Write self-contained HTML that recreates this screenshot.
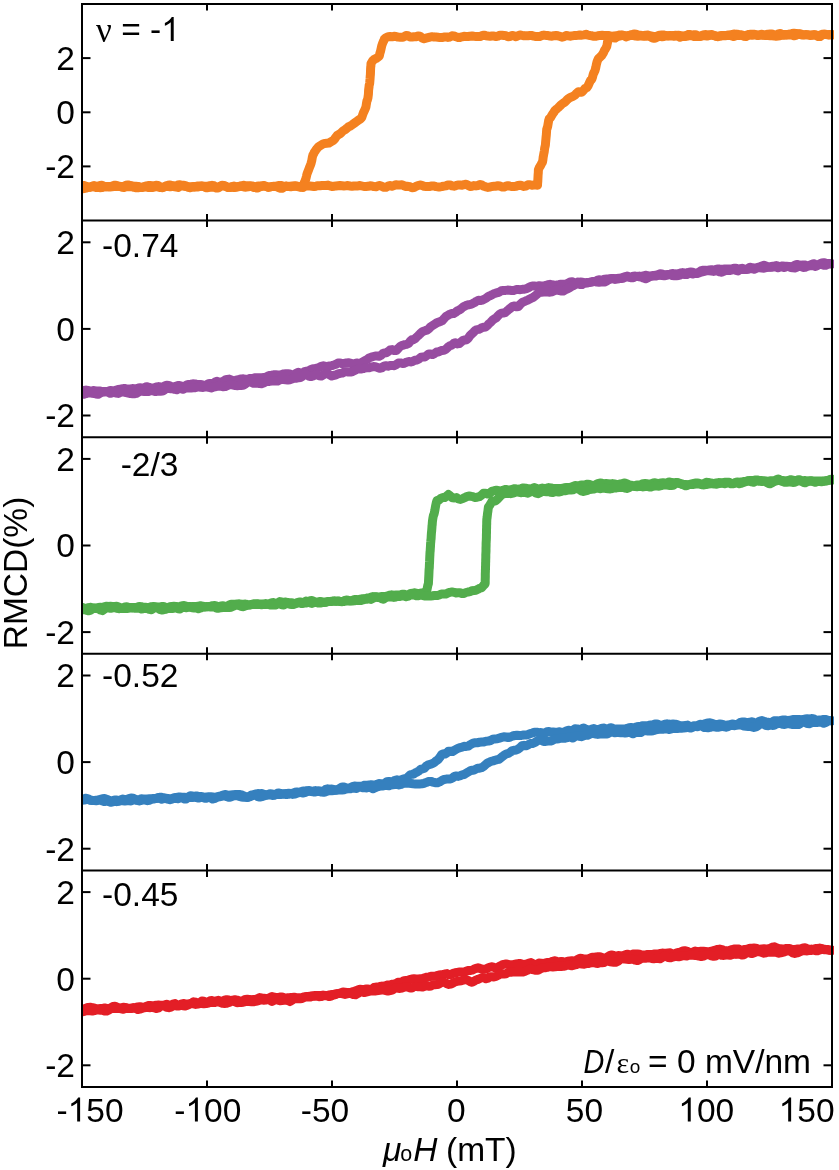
<!DOCTYPE html>
<html><head><meta charset="utf-8"><style>
html,body{margin:0;padding:0;background:#fff;}
svg{display:block;will-change:transform;}
text{font-family:"Liberation Sans",sans-serif;font-size:33.5px;fill:#000;}
.c path{fill:none;stroke-width:9.0;stroke-linejoin:round;stroke-linecap:round;}
.ax line,.ax rect{stroke:#000;stroke-width:2;}
</style></head><body>
<svg width="839" height="1170" viewBox="0 0 839 1170">
<defs><clipPath id="cp"><rect x="82" y="0" width="752" height="1170"/></clipPath></defs>
<g class="c" clip-path="url(#cp)">
<path d="M832.0 35.1 L830.0 35.1 L828.0 34.7 L826.0 34.3 L824.0 34.2 L822.0 34.3 L820.0 35.2 L818.0 35.7 L816.0 35.0 L814.0 34.7 L812.0 35.3 L810.0 35.5 L808.0 35.0 L806.0 34.5 L804.0 35.0 L802.0 35.1 L800.0 34.4 L798.0 33.8 L796.0 33.4 L794.0 33.2 L792.0 33.5 L790.0 34.0 L788.0 34.4 L786.0 35.0 L784.0 35.3 L782.0 34.3 L780.0 33.4 L778.0 34.1 L776.0 35.0 L774.0 34.8 L772.0 34.1 L770.0 34.1 L768.0 34.2 L766.0 34.7 L764.0 35.3 L762.0 35.0 L760.0 35.2 L758.0 35.6 L756.0 35.1 L754.0 35.0 L752.0 35.3 L750.0 35.0 L748.0 34.6 L746.0 35.4 L744.0 35.7 L742.0 35.0 L740.0 35.4 L738.0 35.4 L736.0 35.6 L734.0 36.6 L732.0 36.0 L730.0 34.9 L728.0 35.2 L726.0 35.7 L724.0 35.6 L722.0 35.7 L720.0 35.8 L718.0 36.2 L716.0 36.3 L714.0 35.5 L712.0 35.2 L710.0 35.3 L708.0 35.0 L706.0 34.6 L704.0 34.7 L702.0 35.5 L700.0 36.3 L698.0 36.1 L696.0 34.8 L694.0 34.8 L692.0 35.1 L690.0 34.4 L688.0 34.6 L686.0 35.7 L684.0 36.5 L682.0 36.3 L680.0 35.5 L678.0 35.2 L676.0 35.8 L674.0 36.3 L672.0 35.7 L670.0 35.4 L668.0 35.7 L666.0 35.6 L664.0 35.1 L662.0 34.9 L660.0 35.2 L658.0 35.7 L656.0 36.4 L654.0 36.4 L652.0 36.1 L650.0 36.0 L648.0 36.0 L646.0 36.2 L644.0 36.2 L642.0 35.7 L640.0 35.2 L638.0 35.0 L636.0 34.2 L634.0 33.9 L632.0 34.7 L630.0 35.2 L628.0 36.3 L626.0 36.9 L624.0 35.8 L622.0 35.2 L620.0 35.9 L618.0 36.1 L616.0 35.8 L614.0 35.9 L612.0 36.3 L610.0 36.0 L608.0 35.4 L606.0 35.5 L604.0 35.5 L602.0 35.3 L600.0 35.4 L598.0 35.7 L596.0 36.3 L594.0 36.3 L592.0 35.8 L590.0 35.5 L588.0 35.1 L586.0 34.3 L584.0 34.8 L582.0 35.2 L580.0 35.0 L578.0 35.3 L576.0 35.4 L574.0 35.6 L572.0 35.9 L570.0 36.2 L568.0 35.8 L566.0 35.5 L564.0 36.7 L562.0 37.2 L560.0 36.3 L558.0 35.8 L556.0 35.5 L554.0 35.7 L552.0 36.2 L550.0 36.0 L548.0 35.6 L546.0 35.4 L544.0 35.1 L542.0 35.5 L540.0 36.4 L538.0 36.6 L536.0 36.6 L534.0 36.2 L532.0 35.6 L530.0 35.5 L528.0 35.7 L526.0 35.8 L524.0 35.8 L522.0 35.4 L520.0 35.0 L518.0 35.7 L516.0 36.7 L514.0 35.9 L512.0 35.4 L510.0 36.5 L508.0 36.7 L506.0 35.7 L504.0 35.4 L502.0 35.2 L500.0 35.2 L498.0 36.1 L496.0 36.5 L494.0 36.1 L492.0 36.0 L490.0 36.2 L488.0 36.0 L486.0 35.7 L484.0 35.2 L482.0 35.7 L480.0 36.6 L478.0 36.5 L476.0 36.4 L474.0 36.3 L472.0 36.0 L470.0 36.2 L468.0 36.5 L466.0 36.4 L464.0 36.3 L462.0 36.8 L460.0 37.4 L458.0 37.4 L456.0 36.8 L454.0 35.9 L452.0 35.8 L450.0 37.0 L448.0 37.4 L446.0 36.9 L444.0 37.1 L442.0 37.5 L440.0 37.6 L438.0 37.3 L436.0 37.1 L434.0 37.1 L432.0 36.7 L430.0 37.1 L428.0 37.6 L426.0 38.1 L424.0 38.7 L422.0 38.0 L420.0 36.2 L418.0 35.9 L416.0 36.7 L414.0 36.7 L412.0 37.0 L410.0 37.1 L408.0 35.8 L406.0 35.5 L404.0 36.8 L402.0 37.3 L400.0 37.2 L398.0 37.1 L396.0 36.5 L394.0 36.3 L392.0 36.8 L390.0 36.6 L388.0 36.7 L386.0 37.7 L384.3 39.2 L383.7 40.9 L383.1 42.2 L382.4 43.8 L381.8 45.6 L381.2 48.2 L380.6 50.9 L379.9 53.3 L379.3 56.0 L376.8 58.1 L374.3 59.3 L372.6 60.9 L371.0 63.5 L370.9 65.8 L370.7 67.2 L370.6 68.8 L370.5 71.5 L370.4 74.4 L370.2 76.5 L370.1 78.3 L369.9 80.7 L369.7 83.2 L369.5 84.3 L369.2 85.2 L369.0 87.2 L368.8 88.6 L368.6 90.3 L368.4 94.2 L367.9 98.1 L367.4 99.9 L366.9 101.1 L366.4 103.9 L365.9 107.2 L365.1 109.2 L364.3 110.9 L363.4 112.8 L362.6 115.0 L361.8 117.5 L360.1 119.1 L358.5 120.1 L356.8 121.4 L354.6 123.0 L352.3 124.7 L350.1 126.1 L348.4 126.9 L346.8 128.3 L345.1 129.7 L342.9 131.0 L340.6 133.4 L338.4 134.8 L337.1 135.5 L335.9 137.2 L334.6 139.0 L333.4 140.4 L331.2 141.7 L328.9 143.0 L326.7 143.2 L324.6 143.4 L322.5 144.2 L320.5 145.5 L318.4 146.8 L317.0 148.5 L315.6 150.4 L314.2 152.5 L313.6 153.9 L312.9 155.1 L312.3 157.4 L311.7 160.9 L311.0 163.5 L310.4 165.2 L309.7 166.9 L309.1 168.5 L308.4 170.3 L307.7 172.1 L307.0 174.0 L306.4 176.6 L305.7 179.3 L305.0 181.0 L304.5 182.1 L303.9 183.5 L303.4 185.9 L303.0 187.4 L301.0 187.3 L298.9 186.6 L296.9 186.0 L294.8 185.7 L292.8 186.4 L290.8 186.8 L288.7 186.4 L286.7 186.1 L284.7 186.3 L282.6 185.9 L280.6 185.4 L278.5 185.5 L276.5 186.1 L274.5 186.4 L272.4 186.4 L270.4 186.9 L268.3 187.4 L266.3 186.5 L264.3 186.0 L262.2 186.3 L260.2 186.1 L258.2 185.9 L256.1 186.9 L254.1 187.6 L252.0 186.7 L250.0 185.8 L248.0 185.7 L246.0 185.8 L244.0 185.3 L242.0 185.6 L240.0 186.4 L238.0 186.4 L236.0 187.1 L234.0 187.6 L232.0 187.0 L230.0 187.3 L228.0 187.5 L226.0 186.5 L224.0 185.4 L222.0 185.3 L220.0 186.3 L218.0 187.4 L216.0 187.0 L214.0 185.7 L212.0 185.3 L210.0 185.7 L208.0 186.2 L206.0 186.2 L204.0 186.4 L202.0 186.4 L200.0 186.1 L198.0 186.1 L196.0 186.3 L194.0 186.4 L192.0 187.0 L190.0 187.7 L188.0 187.1 L186.0 185.9 L184.0 185.3 L182.0 185.3 L180.0 184.7 L178.0 185.0 L176.0 186.5 L174.0 186.8 L172.0 185.8 L170.0 185.0 L168.0 185.3 L166.0 185.9 L164.0 187.1 L162.0 187.8 L160.0 186.8 L158.0 185.4 L156.0 185.2 L154.0 185.8 L152.0 185.7 L150.0 185.5 L148.0 185.6 L146.0 185.9 L144.0 186.8 L142.0 187.5 L140.0 187.0 L138.0 186.4 L136.0 186.3 L134.0 186.2 L132.0 185.8 L130.0 185.5 L128.0 184.9 L126.0 185.2 L124.0 186.2 L122.0 186.4 L120.0 186.6 L118.0 186.3 L116.0 185.2 L114.0 185.3 L112.0 186.2 L110.0 186.4 L108.0 186.4 L106.0 186.8 L104.0 186.3 L102.0 185.3 L100.0 185.5 L98.0 186.5 L96.0 186.2 L94.0 185.6 L92.0 186.6 L90.0 187.4 L88.0 187.1 L86.0 186.3 L84.0 185.6 L82.0 185.4" stroke="#F48120"/>
<path d="M82.0 188.9 L84.0 188.5 L86.0 188.1 L88.0 187.5 L90.0 186.8 L92.0 186.3 L94.0 186.9 L96.0 187.5 L98.0 187.2 L100.0 187.7 L102.0 187.6 L104.0 186.7 L106.0 186.6 L108.0 186.9 L110.0 187.0 L112.0 186.8 L114.0 186.6 L116.0 186.6 L118.0 186.3 L120.0 186.2 L122.0 187.2 L124.0 187.4 L126.0 186.7 L128.0 186.7 L130.0 186.6 L132.0 186.8 L134.0 187.4 L136.0 187.7 L138.0 187.8 L140.0 187.4 L142.0 187.2 L144.0 187.1 L146.0 187.0 L148.0 187.4 L150.0 187.6 L152.0 187.6 L154.0 187.1 L156.0 186.6 L158.0 186.9 L160.0 187.6 L162.0 187.6 L164.0 187.0 L166.0 186.5 L168.0 186.4 L170.0 186.8 L172.0 186.3 L174.0 185.8 L176.0 187.0 L178.0 187.5 L180.0 186.4 L182.0 185.9 L184.0 186.2 L186.0 186.5 L188.0 186.9 L190.0 186.7 L192.0 186.8 L194.0 187.2 L196.0 187.1 L198.0 187.0 L200.0 186.4 L202.0 185.7 L204.0 186.3 L206.0 187.7 L208.0 187.7 L210.0 187.3 L212.0 187.3 L214.0 187.3 L216.0 187.9 L218.0 188.1 L220.0 186.7 L222.0 185.7 L224.0 185.8 L226.0 186.3 L228.0 187.5 L230.0 187.6 L232.0 186.5 L234.0 186.0 L236.0 187.0 L238.0 187.1 L240.0 186.1 L242.0 186.4 L244.0 187.0 L246.0 187.2 L248.0 186.8 L250.0 186.3 L252.0 185.9 L254.0 186.5 L256.0 187.9 L258.0 187.9 L260.0 186.8 L262.0 185.9 L264.0 185.5 L266.0 186.2 L268.0 186.9 L270.0 186.9 L272.0 186.6 L274.0 186.2 L276.0 186.6 L278.0 187.3 L280.0 188.2 L282.0 188.3 L284.0 187.1 L286.0 186.3 L288.0 186.4 L290.0 186.2 L292.0 186.1 L294.0 186.2 L296.0 186.3 L298.0 186.7 L300.0 186.9 L302.0 186.7 L304.0 186.4 L306.0 185.9 L308.0 185.8 L310.0 186.0 L312.0 186.2 L314.0 186.5 L316.0 186.2 L318.0 185.7 L320.0 185.7 L322.0 185.5 L324.0 185.6 L326.0 185.5 L328.0 185.1 L330.0 185.9 L332.0 186.5 L334.0 186.2 L336.0 185.9 L338.0 185.7 L340.0 185.5 L342.0 185.7 L344.0 185.9 L346.0 185.8 L348.0 185.6 L350.0 186.0 L352.0 186.3 L354.0 186.0 L356.0 186.0 L358.0 185.9 L360.0 185.5 L362.0 186.0 L364.0 186.5 L366.0 186.5 L368.0 186.3 L370.0 185.8 L372.0 186.0 L374.0 186.6 L376.0 186.7 L378.0 185.9 L380.0 185.5 L382.0 186.4 L384.0 187.3 L386.0 187.2 L388.0 186.1 L390.0 185.5 L392.0 186.2 L394.0 185.5 L396.0 184.7 L398.0 185.1 L400.0 184.9 L402.0 184.7 L404.0 185.7 L406.0 186.5 L408.0 186.3 L410.0 186.7 L412.0 187.7 L414.0 187.5 L416.0 186.4 L418.0 185.5 L420.0 185.0 L422.0 185.4 L424.0 186.2 L426.0 186.4 L428.0 186.5 L430.0 186.4 L432.0 185.9 L434.0 186.0 L436.0 186.6 L438.0 186.9 L440.0 187.0 L442.0 186.5 L444.0 186.1 L446.0 185.8 L448.0 185.0 L450.0 184.9 L452.0 185.8 L454.0 186.2 L456.0 185.6 L458.0 184.9 L460.0 185.0 L462.0 185.2 L464.0 184.6 L466.0 184.2 L468.0 185.3 L470.0 186.5 L472.0 186.2 L474.0 185.6 L476.0 185.9 L478.0 185.5 L480.0 184.4 L482.0 185.1 L484.0 186.3 L486.0 186.9 L488.0 187.4 L490.0 187.1 L492.0 186.4 L494.0 186.3 L496.0 186.2 L498.0 185.7 L500.0 185.9 L502.0 186.9 L504.0 187.1 L506.0 186.2 L508.0 185.7 L510.0 186.2 L512.0 186.6 L514.0 186.5 L516.0 186.3 L518.0 185.5 L520.0 185.2 L522.0 185.7 L524.0 186.4 L526.0 186.1 L528.0 184.8 L530.0 184.7 L532.0 185.3 L534.0 184.9 L536.0 184.8 L537.5 185.3 L537.6 183.6 L537.8 181.1 L537.9 178.8 L538.0 176.9 L538.1 174.9 L538.3 172.6 L538.4 169.7 L539.4 167.4 L540.5 165.7 L541.5 163.7 L542.5 162.1 L542.9 159.7 L543.2 157.1 L543.6 155.0 L543.9 153.3 L544.3 151.3 L544.6 148.7 L545.0 146.7 L545.2 146.0 L545.4 144.9 L545.6 142.4 L545.9 139.2 L546.1 137.0 L546.3 135.2 L546.5 132.3 L546.7 129.5 L547.2 128.0 L547.7 126.2 L548.2 123.2 L548.7 120.4 L549.2 118.9 L550.4 117.8 L551.5 115.8 L552.7 113.9 L553.8 112.4 L555.0 110.4 L556.7 109.0 L558.4 107.5 L560.0 105.9 L561.7 104.3 L563.4 103.0 L565.0 102.1 L566.7 100.2 L568.7 98.4 L570.7 97.3 L572.7 96.6 L574.7 95.3 L576.7 93.2 L578.4 91.8 L580.1 92.0 L581.8 92.2 L583.4 90.5 L585.1 88.4 L586.8 87.7 L588.0 86.0 L589.3 82.9 L590.5 80.5 L591.8 79.2 L592.5 77.3 L593.1 74.8 L593.8 72.9 L594.4 71.9 L595.1 70.2 L595.8 67.5 L596.4 64.4 L597.1 61.6 L597.7 60.1 L598.4 58.6 L600.1 57.1 L601.7 55.5 L603.4 52.9 L604.5 50.2 L605.7 48.4 L606.8 46.3 L607.2 44.0 L607.6 42.0 L608.0 39.4 L608.4 37.3 L609.0 36.6 L611.0 37.3 L613.1 37.8 L615.1 38.0 L617.2 36.5 L619.2 35.1 L621.3 35.0 L623.4 35.3 L625.4 35.7 L627.5 35.7 L629.5 35.3 L631.5 35.5 L633.6 35.6 L635.6 36.0 L637.7 36.2 L639.8 36.0 L641.8 36.0 L643.9 35.7 L645.9 35.2 L648.0 35.0 L650.0 36.2 L652.0 37.9 L654.0 38.3 L656.0 37.8 L658.0 36.8 L660.0 36.4 L662.0 36.7 L664.0 36.5 L666.0 35.9 L668.0 35.9 L670.0 35.9 L672.0 35.8 L674.0 35.5 L676.0 35.2 L678.0 36.1 L680.0 37.2 L682.0 36.5 L684.0 35.9 L686.0 36.4 L688.0 36.1 L690.0 35.4 L692.0 35.7 L694.0 36.4 L696.0 36.3 L698.0 36.4 L700.0 36.6 L702.0 35.9 L704.0 35.5 L706.0 35.9 L708.0 35.9 L710.0 34.8 L712.0 34.6 L714.0 35.4 L716.0 36.1 L718.0 36.7 L720.0 36.2 L722.0 35.4 L724.0 35.5 L726.0 35.5 L728.0 35.3 L730.0 35.4 L732.0 34.6 L734.0 33.9 L736.0 34.3 L738.0 34.3 L740.0 34.8 L742.0 35.6 L744.0 36.3 L746.0 36.5 L748.0 35.4 L750.0 34.3 L752.0 34.3 L754.0 34.3 L756.0 34.6 L758.0 35.1 L760.0 34.6 L762.0 34.2 L764.0 35.2 L766.0 35.6 L768.0 35.6 L770.0 35.7 L772.0 35.8 L774.0 35.9 L776.0 36.2 L778.0 36.0 L780.0 35.8 L782.0 35.2 L784.0 34.5 L786.0 34.6 L788.0 35.1 L790.0 34.9 L792.0 35.0 L794.0 35.8 L796.0 35.4 L798.0 34.0 L800.0 33.7 L802.0 34.5 L804.0 34.8 L806.0 34.7 L808.0 34.8 L810.0 34.9 L812.0 35.0 L814.0 34.8 L816.0 35.1 L818.0 36.4 L820.0 36.6 L822.0 35.1 L824.0 34.2 L826.0 34.6 L828.0 34.9 L830.0 34.4 L832.0 34.4" stroke="#F48120"/>
<path d="M832.0 263.9 L829.9 263.4 L827.9 263.4 L825.8 263.2 L823.8 262.7 L821.7 263.0 L819.6 264.1 L817.6 264.7 L815.5 264.3 L813.4 263.7 L811.4 264.4 L809.3 265.6 L807.2 265.7 L805.2 265.1 L803.1 265.0 L801.1 265.4 L799.0 265.0 L796.9 264.4 L794.9 265.2 L792.8 266.4 L790.8 266.7 L788.7 266.4 L786.6 266.2 L784.6 266.2 L782.5 265.9 L780.4 266.5 L778.4 267.8 L776.3 267.2 L774.2 266.2 L772.2 266.2 L770.1 266.9 L768.1 267.1 L766.0 266.0 L764.0 265.3 L762.0 266.0 L760.0 266.8 L758.0 267.4 L756.0 268.0 L754.0 268.0 L752.0 267.6 L750.0 267.3 L748.0 268.4 L746.0 269.4 L744.0 269.0 L742.0 268.3 L740.0 268.7 L738.0 269.0 L736.0 268.2 L734.0 268.2 L732.0 269.0 L729.9 269.1 L727.9 268.9 L725.8 268.9 L723.8 269.1 L721.7 269.2 L719.7 269.1 L717.6 268.9 L715.6 269.7 L713.5 270.2 L711.5 269.7 L709.4 270.0 L707.4 270.4 L705.3 270.2 L703.3 270.2 L701.2 270.6 L699.2 272.1 L697.1 273.5 L695.1 273.2 L693.0 272.2 L690.9 272.1 L688.9 272.3 L686.8 272.7 L684.8 272.9 L682.7 272.6 L680.6 273.0 L678.6 273.7 L676.5 274.1 L674.4 273.8 L672.4 273.4 L670.3 274.1 L668.2 274.7 L666.2 274.7 L664.1 274.7 L662.1 274.0 L660.0 273.8 L657.9 275.2 L655.9 276.0 L653.8 275.7 L651.8 275.9 L649.7 276.1 L647.6 275.6 L645.6 275.3 L643.5 276.0 L641.4 276.4 L639.4 276.1 L637.3 276.5 L635.2 276.1 L633.2 276.2 L631.1 277.1 L629.1 276.8 L627.0 276.1 L625.0 276.9 L623.0 278.3 L621.0 278.6 L619.0 278.2 L617.0 278.5 L615.0 278.8 L613.0 278.6 L611.0 278.9 L609.0 279.0 L607.0 278.9 L605.0 279.2 L603.0 279.7 L601.0 279.9 L599.0 279.8 L597.0 280.4 L595.0 281.4 L593.0 281.7 L590.9 282.1 L588.8 282.5 L586.8 282.9 L584.7 283.0 L582.6 282.3 L580.5 282.1 L578.4 282.8 L576.3 283.9 L574.2 283.5 L572.2 281.7 L570.1 281.9 L568.0 283.3 L565.6 284.2 L563.2 284.3 L560.9 284.3 L558.5 284.7 L556.4 285.0 L554.3 285.2 L552.1 284.8 L550.0 284.3 L547.9 284.7 L545.8 285.4 L543.6 286.0 L541.5 285.9 L539.4 285.7 L537.3 286.2 L535.2 286.1 L533.0 285.9 L530.9 286.3 L528.8 287.5 L526.7 288.7 L524.5 289.2 L522.4 289.3 L520.3 289.7 L518.2 289.6 L516.1 289.6 L514.0 290.4 L511.9 290.6 L509.7 290.2 L507.6 290.1 L505.5 290.4 L503.4 290.5 L501.3 290.8 L499.4 292.0 L497.5 292.7 L495.6 293.2 L493.7 293.8 L491.8 294.9 L489.8 295.8 L487.9 296.8 L486.0 298.3 L484.1 299.2 L482.2 300.1 L480.3 300.5 L478.4 300.3 L476.5 301.2 L474.6 302.6 L472.6 303.6 L470.7 304.4 L468.8 304.7 L466.9 305.1 L465.0 306.0 L463.1 307.0 L461.2 308.7 L459.3 310.0 L457.4 310.9 L455.5 312.4 L453.6 313.5 L451.7 313.6 L449.8 314.2 L447.9 315.3 L446.0 316.4 L444.1 318.6 L442.2 320.7 L440.3 321.5 L438.4 322.2 L436.5 323.0 L434.6 324.3 L432.6 325.6 L430.7 326.8 L428.8 328.7 L426.9 330.2 L425.0 330.7 L423.3 331.2 L421.7 332.3 L420.0 333.9 L418.4 335.5 L416.7 337.0 L415.1 338.7 L413.4 339.7 L411.8 339.8 L410.1 341.4 L408.5 343.5 L406.8 344.3 L404.7 344.7 L402.6 345.3 L400.5 346.1 L398.5 348.1 L396.4 350.4 L394.3 350.5 L392.2 349.6 L390.1 350.0 L388.2 351.6 L386.4 352.8 L384.5 352.9 L382.7 353.7 L380.8 355.5 L379.0 356.3 L377.1 356.1 L375.3 356.0 L373.4 356.5 L371.3 357.1 L369.2 357.9 L367.1 359.5 L365.0 360.5 L363.0 361.8 L360.9 363.4 L358.8 363.3 L356.7 362.9 L354.6 363.7 L352.6 364.0 L350.5 363.1 L348.4 362.8 L346.3 362.9 L344.2 363.3 L342.2 363.7 L340.1 362.9 L338.0 363.0 L335.9 364.3 L333.8 365.0 L331.8 365.6 L329.7 365.9 L327.6 366.4 L325.5 366.4 L323.4 365.8 L321.3 366.4 L319.2 367.4 L317.1 368.2 L315.0 368.7 L313.0 368.7 L310.9 369.4 L308.8 370.8 L306.7 371.1 L304.6 371.6 L302.4 373.3 L300.3 373.5 L298.2 372.2 L296.1 373.2 L293.9 374.9 L291.8 374.7 L289.8 374.0 L287.8 373.7 L285.7 373.7 L283.7 373.9 L281.7 374.5 L279.7 375.1 L277.7 375.0 L275.6 374.7 L273.6 374.8 L271.6 375.2 L269.6 375.5 L267.6 376.3 L265.6 377.3 L263.5 377.6 L261.5 377.7 L259.5 377.8 L257.5 377.8 L255.5 377.7 L253.4 378.2 L251.4 378.4 L249.4 378.6 L247.4 379.4 L245.4 379.3 L243.3 378.8 L241.3 378.9 L239.3 379.4 L237.3 379.8 L235.3 380.3 L233.3 380.7 L231.2 379.9 L229.2 379.1 L227.2 379.4 L225.2 379.9 L223.2 381.2 L221.2 382.6 L219.1 382.2 L217.1 381.3 L215.1 382.0 L213.1 383.5 L211.1 383.5 L209.1 383.4 L207.1 384.5 L205.0 385.5 L203.0 385.1 L201.0 384.4 L199.0 384.4 L197.0 384.5 L195.0 383.9 L192.9 383.8 L190.9 384.2 L188.9 384.4 L186.9 384.9 L184.9 386.1 L182.9 386.7 L180.8 385.8 L178.8 385.4 L176.8 385.9 L174.8 386.6 L172.8 386.9 L170.7 386.2 L168.7 385.4 L166.7 385.2 L164.7 386.0 L162.7 387.1 L160.7 387.0 L158.6 386.6 L156.6 386.9 L154.6 387.7 L152.6 387.9 L150.6 387.6 L148.5 387.2 L146.5 386.7 L144.5 387.6 L142.5 388.5 L140.5 387.7 L138.4 388.0 L136.4 388.9 L134.4 388.7 L132.4 388.6 L130.4 389.0 L128.4 389.4 L126.3 388.9 L124.3 388.4 L122.3 388.8 L120.3 389.1 L118.3 389.4 L116.3 390.2 L114.2 390.8 L112.2 390.8 L110.2 390.5 L108.2 391.2 L106.2 391.8 L104.2 392.1 L102.2 391.8 L100.1 391.1 L98.1 391.0 L96.1 391.0 L94.1 390.6 L92.1 390.8 L90.1 390.9 L88.0 390.5 L86.0 390.1 L84.0 390.5 L82.0 391.4" stroke="#974CA0"/>
<path d="M82.0 394.3 L84.0 394.3 L86.0 393.6 L88.0 393.0 L90.1 392.9 L92.1 393.2 L94.1 393.4 L96.1 394.0 L98.1 394.3 L100.1 393.1 L102.2 391.8 L104.2 391.5 L106.2 391.4 L108.2 392.1 L110.2 393.3 L112.2 392.8 L114.2 392.1 L116.3 393.0 L118.3 393.4 L120.3 392.5 L122.3 391.9 L124.3 392.1 L126.3 392.7 L128.4 393.2 L130.4 393.6 L132.4 393.7 L134.4 393.7 L136.4 393.4 L138.4 392.2 L140.5 391.0 L142.5 391.2 L144.5 391.5 L146.5 391.4 L148.5 391.5 L150.6 390.8 L152.6 390.6 L154.6 391.5 L156.6 391.4 L158.6 391.0 L160.7 391.2 L162.7 391.1 L164.7 389.7 L166.7 388.2 L168.7 388.4 L170.7 388.7 L172.8 388.7 L174.8 389.4 L176.8 389.7 L178.8 388.6 L180.8 388.5 L182.9 389.3 L184.9 388.4 L186.9 387.5 L188.9 388.1 L190.9 388.1 L192.9 387.8 L195.0 387.8 L197.0 387.2 L199.0 386.8 L201.0 387.3 L203.0 387.4 L205.0 386.9 L207.1 386.8 L209.1 387.5 L211.1 388.0 L213.1 387.2 L215.1 386.8 L217.1 386.4 L219.1 386.0 L221.2 386.4 L223.2 386.7 L225.2 386.6 L227.2 385.7 L229.2 384.7 L231.2 384.7 L233.3 385.2 L235.3 385.6 L237.3 385.7 L239.3 385.4 L241.3 385.4 L243.3 385.3 L245.4 383.9 L247.4 382.4 L249.4 381.8 L251.4 382.4 L253.4 383.2 L255.5 383.1 L257.5 383.2 L259.5 383.6 L261.5 383.7 L263.5 383.0 L265.6 381.9 L267.6 381.4 L269.6 381.4 L271.6 381.1 L273.6 380.7 L275.6 381.0 L277.7 381.0 L279.7 379.9 L281.7 379.5 L283.7 379.5 L285.7 379.8 L287.8 380.1 L289.8 379.8 L291.8 379.1 L293.9 378.3 L296.1 378.2 L298.2 377.9 L300.3 377.5 L302.4 376.3 L304.6 374.6 L306.7 374.7 L308.8 376.1 L310.9 376.6 L313.0 376.0 L315.0 374.9 L317.1 374.6 L319.2 375.7 L321.3 376.0 L323.4 374.8 L325.5 373.6 L327.6 373.3 L329.7 374.8 L331.8 376.0 L333.8 375.4 L335.9 374.8 L338.0 373.9 L340.1 373.4 L342.2 373.1 L344.2 372.2 L346.3 371.7 L348.4 372.1 L350.5 372.1 L352.6 371.6 L354.6 370.6 L356.7 369.4 L358.8 368.9 L360.9 369.1 L363.0 368.7 L365.0 367.9 L367.1 367.8 L369.2 367.7 L371.3 367.0 L373.4 366.6 L375.5 366.8 L377.6 367.5 L379.7 368.3 L381.8 367.9 L383.8 366.1 L385.9 365.7 L388.0 366.2 L390.1 365.5 L392.2 365.4 L394.3 365.7 L396.4 364.5 L398.5 363.1 L400.5 362.9 L402.6 363.5 L404.7 363.2 L406.8 362.0 L408.8 361.5 L410.8 361.9 L412.9 361.3 L414.9 360.3 L416.9 360.0 L418.9 359.0 L421.0 357.3 L423.0 357.1 L425.0 357.0 L426.9 355.3 L428.8 353.9 L430.7 354.0 L432.6 354.6 L434.6 353.5 L436.5 352.1 L438.4 352.0 L440.3 351.0 L442.2 350.4 L444.1 350.3 L446.0 349.1 L447.9 347.2 L449.8 345.8 L451.7 345.2 L453.6 343.5 L455.5 342.7 L457.4 343.9 L459.3 343.6 L461.2 341.9 L463.1 340.4 L464.8 340.0 L466.6 339.7 L468.3 338.1 L470.0 335.7 L471.8 333.8 L473.5 332.3 L475.3 330.5 L477.0 329.6 L478.7 329.4 L480.5 328.5 L482.2 327.6 L483.9 327.2 L485.7 327.0 L487.4 325.5 L489.1 323.6 L490.9 322.1 L492.6 320.2 L494.4 318.9 L496.1 317.9 L497.8 316.0 L499.6 314.3 L501.3 313.2 L503.2 313.1 L505.1 312.7 L507.0 311.0 L508.9 309.4 L510.8 307.9 L512.7 306.4 L514.6 306.0 L516.5 306.8 L518.4 306.5 L520.3 304.3 L522.2 302.5 L524.1 301.7 L526.0 300.8 L527.9 300.1 L529.8 299.1 L531.8 298.1 L533.7 297.0 L535.6 295.5 L537.5 293.8 L539.4 292.5 L541.5 292.3 L543.6 292.1 L545.8 292.1 L547.9 292.0 L550.0 292.2 L552.1 291.8 L554.3 290.7 L556.4 290.1 L558.5 290.4 L560.9 291.0 L563.2 291.1 L565.6 289.7 L568.0 288.6 L569.9 287.5 L571.8 286.2 L573.8 285.5 L575.7 283.5 L577.6 282.2 L579.8 284.4 L582.0 284.5 L584.2 282.9 L586.4 282.6 L588.6 282.7 L590.8 282.2 L593.0 281.4 L595.0 281.5 L597.0 282.1 L599.0 282.3 L601.0 282.1 L603.0 282.1 L605.0 282.0 L607.0 280.8 L609.0 279.5 L611.0 278.4 L613.0 278.6 L615.0 279.4 L617.0 279.0 L619.0 278.7 L621.0 278.2 L623.0 277.3 L625.0 277.1 L627.0 276.9 L629.1 277.2 L631.1 277.8 L633.2 277.7 L635.2 276.7 L637.3 276.4 L639.4 276.8 L641.4 277.2 L643.5 278.1 L645.6 278.8 L647.6 277.9 L649.7 276.6 L651.8 276.0 L653.8 275.4 L655.9 275.1 L657.9 275.1 L660.0 275.3 L662.1 275.6 L664.1 275.8 L666.2 275.3 L668.2 274.5 L670.3 274.6 L672.4 275.5 L674.4 275.8 L676.5 275.7 L678.6 275.5 L680.6 274.9 L682.7 274.1 L684.8 274.5 L686.8 274.6 L688.9 273.4 L690.9 273.6 L693.0 274.0 L695.1 273.4 L697.1 273.2 L699.2 272.9 L701.2 272.1 L703.3 271.6 L705.3 271.1 L707.4 270.7 L709.4 270.8 L711.5 271.1 L713.5 271.4 L715.6 270.9 L717.6 270.8 L719.7 271.9 L721.7 272.2 L723.8 271.2 L725.8 270.4 L727.9 270.3 L729.9 270.6 L732.0 269.9 L734.0 269.2 L736.0 270.5 L738.0 271.0 L740.0 269.5 L742.0 269.4 L744.0 269.6 L746.0 269.4 L748.0 269.3 L750.0 268.4 L752.0 268.7 L754.0 269.3 L756.0 268.4 L758.0 267.8 L760.0 267.7 L762.0 268.0 L764.0 268.2 L766.0 267.7 L768.1 267.3 L770.1 267.1 L772.2 267.3 L774.2 266.6 L776.3 265.6 L778.4 266.1 L780.4 266.4 L782.5 267.0 L784.6 267.5 L786.6 266.5 L788.7 266.4 L790.8 267.5 L792.8 267.8 L794.9 267.9 L796.9 267.2 L799.0 266.2 L801.1 266.6 L803.1 267.4 L805.2 267.2 L807.2 266.4 L809.3 265.9 L811.4 265.5 L813.4 265.8 L815.5 266.5 L817.6 265.5 L819.6 264.3 L821.7 264.6 L823.8 265.3 L825.8 265.2 L827.9 264.4 L829.9 263.9 L832.0 264.0" stroke="#974CA0"/>
<path d="M832.0 479.1 L829.9 479.5 L827.9 480.5 L825.8 480.7 L823.8 481.1 L821.7 481.7 L819.6 481.5 L817.6 481.6 L815.5 482.3 L813.4 481.7 L811.4 481.0 L809.3 481.3 L807.2 481.1 L805.2 480.5 L803.1 480.7 L801.1 480.3 L799.0 479.7 L796.9 480.2 L794.9 480.6 L792.8 480.1 L790.8 479.7 L788.7 480.3 L786.6 480.9 L784.6 480.7 L782.5 480.5 L780.4 480.7 L778.4 480.4 L776.3 480.9 L774.2 481.5 L772.2 480.8 L770.1 480.8 L768.1 481.4 L766.0 481.0 L763.9 480.9 L761.9 481.6 L759.8 481.3 L757.8 480.1 L755.7 480.0 L753.6 480.4 L751.6 480.4 L749.5 480.6 L747.4 481.2 L745.4 481.6 L743.3 481.6 L741.2 482.1 L739.2 482.3 L737.1 482.0 L735.1 482.8 L733.0 483.6 L730.9 483.1 L728.9 482.3 L726.8 482.2 L724.8 482.3 L722.7 483.0 L720.6 483.2 L718.6 482.6 L716.5 483.0 L714.4 483.5 L712.4 483.2 L710.3 482.8 L708.2 482.4 L706.2 482.3 L704.1 483.5 L702.1 484.5 L700.0 483.7 L697.9 482.9 L695.9 482.9 L693.8 483.3 L691.8 483.8 L689.7 484.3 L687.6 484.7 L685.6 484.5 L683.5 484.3 L681.4 484.0 L679.4 483.2 L677.3 482.4 L675.2 482.6 L673.2 482.9 L671.1 482.3 L669.1 481.9 L667.0 482.8 L665.0 483.0 L663.0 482.8 L661.0 483.0 L659.0 483.4 L657.0 483.4 L655.0 482.8 L653.0 483.0 L651.0 483.9 L649.0 484.1 L647.0 483.8 L645.0 483.6 L643.0 483.7 L641.0 484.6 L639.0 485.0 L637.0 484.9 L635.0 485.7 L633.0 485.8 L630.9 485.2 L628.9 484.8 L626.8 483.7 L624.8 483.0 L622.7 483.4 L620.6 484.1 L618.6 484.3 L616.5 484.4 L614.4 484.0 L612.4 483.6 L610.3 483.9 L608.2 483.7 L606.2 483.6 L604.1 483.8 L602.1 483.3 L600.0 483.0 L597.9 483.6 L595.8 484.6 L593.8 485.4 L591.7 485.2 L589.6 484.5 L587.5 484.2 L585.4 484.7 L583.3 484.9 L581.2 484.9 L579.2 485.7 L577.1 485.7 L575.0 485.5 L572.9 486.5 L570.7 487.3 L568.6 487.5 L566.4 487.6 L564.3 487.8 L562.1 488.4 L560.0 488.6 L557.8 488.4 L555.5 488.6 L553.2 488.5 L551.0 487.9 L548.8 487.6 L546.5 488.1 L544.4 488.4 L542.4 488.1 L540.3 488.7 L538.2 489.1 L536.2 488.3 L534.1 487.6 L532.1 488.4 L530.0 489.1 L527.8 488.8 L525.6 488.2 L523.4 487.9 L521.2 488.6 L519.0 489.2 L516.8 489.0 L514.6 488.7 L512.4 489.3 L510.1 489.9 L507.9 489.9 L505.7 489.4 L503.5 490.0 L501.2 491.3 L498.8 490.6 L496.5 490.3 L494.1 490.7 L491.8 491.4 L489.7 493.3 L487.6 494.1 L485.5 493.2 L483.5 493.3 L481.4 495.3 L479.3 496.7 L477.2 497.2 L475.1 497.4 L473.0 496.7 L470.9 496.3 L468.8 496.0 L466.8 496.6 L464.7 497.7 L462.6 498.6 L460.5 499.4 L458.4 498.9 L456.4 497.6 L454.4 497.9 L452.4 497.8 L450.4 496.1 L448.4 494.5 L446.5 496.2 L444.6 497.6 L442.7 497.6 L440.8 498.4 L438.9 500.0 L437.0 500.6 L436.6 501.7 L436.1 503.6 L435.6 505.9 L435.2 508.3 L434.8 510.7 L434.3 513.1 L433.9 514.5 L433.4 515.5 L432.9 518.1 L432.5 520.8 L432.3 522.9 L432.2 524.8 L432.0 526.0 L431.9 527.9 L431.7 530.4 L431.6 531.5 L431.4 533.3 L431.2 536.5 L431.1 538.6 L430.9 540.1 L430.8 541.6 L430.6 543.5 L430.5 545.9 L430.3 548.8 L430.2 550.7 L430.0 552.4 L429.9 554.8 L429.8 556.6 L429.7 558.6 L429.6 561.5 L429.5 563.1 L429.4 565.0 L429.3 567.8 L429.1 569.6 L429.0 571.4 L428.9 574.1 L428.8 576.2 L428.7 577.9 L428.6 579.7 L428.5 581.7 L428.4 583.7 L427.8 585.5 L427.3 588.0 L426.7 591.2 L423.4 592.6 L421.3 592.9 L419.1 593.9 L417.0 593.3 L414.9 592.8 L412.8 593.1 L410.6 593.4 L408.5 594.6 L406.4 595.1 L404.3 594.3 L402.1 594.3 L400.0 595.0 L397.9 595.1 L395.9 595.1 L393.8 595.2 L391.7 594.8 L389.6 595.2 L387.6 596.0 L385.5 596.4 L383.4 596.6 L381.3 596.6 L379.3 597.2 L377.2 597.4 L375.1 596.9 L373.0 596.6 L371.0 597.1 L368.9 597.9 L366.8 598.1 L364.7 598.9 L362.7 600.0 L360.6 600.6 L358.5 600.6 L356.4 599.6 L354.4 599.4 L352.3 600.5 L350.3 601.0 L348.3 601.0 L346.3 601.0 L344.2 601.4 L342.2 601.6 L340.2 601.4 L338.2 601.3 L336.2 601.2 L334.2 601.1 L332.2 601.4 L330.1 601.5 L328.1 601.5 L326.1 602.0 L324.1 601.9 L322.1 601.8 L320.1 601.5 L318.1 601.9 L316.0 602.5 L314.0 601.6 L312.0 600.6 L310.0 600.8 L308.0 602.0 L306.0 603.1 L304.0 603.0 L301.9 602.4 L299.9 601.9 L297.9 602.3 L295.9 603.3 L293.9 603.4 L291.9 602.7 L289.9 602.7 L287.8 602.6 L285.8 602.1 L283.8 602.3 L281.8 602.0 L279.8 601.6 L277.8 602.8 L275.8 603.4 L273.7 602.6 L271.7 602.7 L269.7 603.8 L267.7 604.3 L265.7 604.5 L263.7 604.5 L261.7 603.9 L259.6 603.9 L257.6 603.8 L255.6 603.7 L253.6 603.8 L251.6 604.3 L249.5 604.8 L247.5 604.5 L245.4 604.1 L243.4 604.2 L241.3 604.2 L239.3 603.8 L237.3 603.9 L235.2 604.2 L233.2 604.3 L231.1 604.3 L229.1 605.0 L227.0 606.3 L225.0 606.5 L223.0 605.7 L220.9 605.9 L218.9 606.6 L216.8 606.1 L214.8 605.5 L212.7 605.7 L210.7 606.2 L208.7 606.5 L206.6 606.7 L204.6 606.7 L202.5 606.1 L200.5 605.8 L198.4 606.1 L196.4 606.8 L194.4 606.5 L192.3 606.4 L190.3 607.2 L188.2 607.1 L186.2 606.1 L184.1 605.6 L182.1 605.7 L180.1 606.3 L178.0 606.7 L176.0 606.4 L173.9 606.3 L171.9 606.4 L169.8 606.7 L167.8 607.7 L165.8 607.7 L163.7 606.5 L161.7 606.4 L159.6 607.1 L157.6 607.1 L155.5 606.7 L153.5 606.5 L151.5 606.7 L149.4 607.3 L147.4 607.4 L145.3 607.2 L143.3 607.3 L141.2 606.7 L139.2 606.4 L137.2 607.2 L135.1 607.5 L133.1 607.5 L131.0 608.1 L129.0 607.9 L126.9 606.7 L124.9 606.9 L122.9 608.3 L120.8 608.3 L118.8 606.9 L116.7 606.2 L114.7 606.4 L112.6 606.4 L110.6 606.3 L108.6 606.5 L106.5 606.3 L104.5 606.6 L102.4 607.4 L100.4 607.3 L98.3 607.5 L96.3 608.1 L94.3 608.1 L92.2 607.6 L90.2 607.3 L88.1 607.7 L86.1 608.6 L84.0 608.3 L82.0 607.2" stroke="#52AD4C"/>
<path d="M82.0 609.4 L84.0 609.7 L86.1 610.2 L88.1 610.8 L90.2 610.3 L92.2 609.1 L94.3 608.4 L96.3 608.3 L98.3 608.8 L100.4 609.9 L102.4 610.6 L104.5 609.1 L106.5 607.4 L108.6 607.8 L110.6 608.3 L112.6 607.8 L114.7 607.7 L116.7 608.3 L118.8 608.7 L120.8 608.4 L122.9 608.3 L124.9 608.6 L126.9 608.4 L129.0 607.7 L131.0 607.4 L133.1 607.9 L135.1 608.3 L137.2 607.8 L139.2 608.3 L141.2 608.9 L143.3 608.7 L145.3 608.3 L147.4 608.4 L149.4 609.4 L151.5 609.7 L153.5 608.5 L155.5 607.3 L157.6 607.7 L159.6 609.4 L161.7 610.0 L163.7 609.7 L165.8 609.3 L167.8 608.6 L169.8 608.2 L171.9 608.5 L173.9 608.2 L176.0 607.8 L178.0 608.8 L180.1 609.0 L182.1 607.5 L184.1 607.1 L186.2 607.7 L188.2 607.0 L190.3 606.5 L192.3 607.7 L194.4 608.0 L196.4 608.1 L198.4 608.8 L200.5 608.1 L202.5 607.2 L204.6 607.0 L206.6 606.6 L208.7 606.7 L210.7 607.1 L212.7 606.9 L214.8 607.2 L216.8 608.2 L218.9 608.2 L220.9 607.7 L223.0 607.5 L225.0 607.6 L227.0 607.6 L229.1 607.5 L231.1 607.2 L233.2 606.2 L235.2 605.4 L237.3 605.1 L239.3 605.6 L241.3 606.6 L243.4 606.7 L245.4 605.8 L247.5 605.4 L249.5 605.1 L251.6 604.6 L253.6 604.5 L255.6 604.5 L257.6 604.2 L259.6 604.6 L261.7 604.8 L263.7 604.2 L265.7 603.6 L267.7 604.1 L269.7 604.9 L271.7 604.7 L273.7 605.1 L275.8 605.0 L277.8 603.8 L279.8 603.6 L281.8 604.7 L283.8 604.9 L285.8 603.6 L287.8 603.5 L289.9 604.2 L291.9 604.5 L293.9 604.4 L295.9 603.6 L297.9 602.9 L299.9 603.0 L301.9 603.6 L304.0 602.3 L306.0 601.1 L308.0 601.8 L310.0 602.9 L312.0 603.4 L314.0 602.6 L316.0 602.2 L318.1 602.9 L320.1 603.1 L322.1 602.6 L324.1 602.5 L326.1 602.2 L328.1 601.5 L330.1 601.4 L332.2 601.1 L334.2 601.1 L336.2 601.2 L338.2 600.9 L340.2 601.5 L342.2 601.7 L344.2 600.7 L346.3 600.1 L348.3 600.3 L350.3 600.8 L352.3 601.0 L354.4 600.8 L356.4 600.4 L358.5 599.8 L360.6 599.1 L362.7 598.7 L364.7 599.2 L366.8 599.2 L368.9 598.9 L371.0 599.4 L373.0 598.3 L375.1 596.8 L377.2 596.8 L379.3 597.3 L381.3 598.6 L383.4 599.2 L385.5 597.8 L387.6 596.9 L389.6 596.9 L391.7 597.1 L393.8 597.4 L395.9 597.0 L397.9 596.5 L400.0 596.4 L402.0 595.9 L404.1 596.1 L406.1 596.8 L408.1 596.2 L410.1 595.1 L412.2 594.8 L414.2 595.0 L416.2 595.7 L418.3 595.7 L420.3 595.1 L422.3 595.4 L424.3 595.9 L426.4 595.8 L428.4 596.0 L430.6 596.1 L432.7 595.8 L434.9 595.4 L437.0 595.6 L439.2 595.0 L441.4 593.9 L443.5 594.1 L445.7 594.0 L447.8 593.1 L450.0 592.3 L452.0 591.9 L454.0 592.3 L456.0 592.9 L458.0 592.8 L460.0 592.7 L462.0 593.5 L464.0 593.4 L466.0 592.5 L468.0 592.0 L470.0 591.6 L472.0 590.8 L473.9 590.6 L475.9 590.3 L477.9 589.3 L479.8 588.2 L481.8 587.6 L483.5 585.4 L485.1 583.9 L485.2 582.8 L485.2 580.3 L485.3 577.0 L485.3 574.0 L485.4 571.6 L485.4 570.2 L485.5 569.2 L485.5 567.2 L485.6 565.1 L485.6 563.1 L485.7 561.7 L485.7 560.1 L485.8 557.3 L485.8 554.8 L485.9 553.1 L486.0 551.3 L486.0 548.5 L486.1 545.7 L486.1 543.5 L486.2 541.8 L486.2 541.5 L486.3 540.2 L486.4 537.2 L486.4 535.0 L486.5 532.6 L486.5 529.8 L486.6 527.8 L486.6 525.8 L486.7 524.3 L486.7 522.5 L486.8 519.5 L487.1 517.5 L487.3 515.7 L487.6 513.1 L487.9 511.3 L488.1 509.5 L488.4 507.2 L489.6 505.5 L490.9 503.3 L492.1 501.1 L493.4 501.0 L495.5 500.9 L497.6 499.1 L499.7 496.7 L501.8 494.4 L504.0 493.8 L506.3 493.4 L508.5 493.3 L510.6 493.7 L512.8 493.1 L515.0 492.4 L517.1 491.9 L519.2 492.4 L521.4 492.7 L523.5 492.2 L525.7 492.6 L527.9 493.2 L530.0 492.0 L532.1 491.1 L534.1 491.8 L536.2 493.2 L538.2 493.7 L540.3 492.5 L542.4 491.3 L544.4 491.5 L546.5 491.7 L548.5 491.6 L550.6 492.3 L552.6 492.5 L554.6 491.7 L556.7 491.6 L558.7 492.0 L560.8 491.6 L562.8 490.8 L564.8 490.8 L566.9 490.3 L568.9 489.8 L570.9 490.0 L573.0 489.7 L575.0 488.9 L577.1 488.4 L579.2 489.2 L581.2 490.9 L583.3 491.5 L585.4 490.9 L587.5 490.3 L589.6 489.4 L591.7 489.2 L593.8 489.1 L595.8 488.3 L597.9 488.2 L600.0 488.7 L602.1 488.4 L604.1 488.1 L606.2 488.5 L608.2 488.8 L610.3 488.9 L612.4 488.5 L614.4 488.0 L616.5 487.9 L618.6 487.6 L620.6 487.2 L622.7 487.4 L624.8 488.0 L626.8 488.4 L628.9 487.7 L630.9 486.4 L633.0 486.1 L635.0 486.6 L637.0 486.7 L639.0 486.4 L641.0 486.4 L643.0 486.9 L645.0 486.5 L647.0 486.1 L649.0 487.0 L651.0 487.0 L653.0 486.3 L655.0 486.1 L657.0 486.1 L659.0 486.2 L661.0 485.7 L663.0 485.0 L665.0 484.9 L667.0 485.0 L669.1 485.4 L671.1 485.5 L673.2 485.2 L675.2 483.8 L677.3 482.9 L679.4 483.5 L681.4 484.0 L683.5 484.9 L685.6 485.8 L687.6 485.3 L689.7 484.6 L691.8 484.5 L693.8 484.4 L695.9 484.1 L697.9 483.8 L700.0 484.1 L702.1 484.8 L704.1 484.9 L706.2 484.6 L708.2 484.2 L710.3 483.8 L712.4 483.8 L714.4 484.1 L716.5 484.2 L718.6 483.6 L720.6 482.7 L722.7 483.0 L724.8 483.7 L726.8 483.1 L728.9 482.9 L730.9 483.7 L733.0 483.8 L735.1 483.0 L737.1 483.0 L739.2 483.7 L741.2 483.4 L743.3 482.6 L745.4 481.8 L747.4 480.8 L749.5 480.9 L751.6 481.9 L753.6 482.2 L755.7 481.4 L757.8 480.5 L759.8 480.4 L761.9 480.6 L763.9 480.9 L766.0 481.9 L768.1 483.3 L770.1 483.8 L772.2 482.7 L774.2 481.1 L776.3 479.8 L778.4 479.0 L780.4 480.1 L782.5 481.5 L784.6 482.2 L786.6 482.3 L788.7 482.1 L790.8 482.0 L792.8 482.4 L794.9 482.2 L796.9 481.2 L799.0 480.5 L801.1 481.0 L803.1 482.3 L805.2 482.8 L807.2 481.7 L809.3 480.7 L811.4 480.8 L813.4 481.0 L815.5 480.9 L817.6 481.0 L819.6 481.0 L821.7 481.0 L823.8 481.2 L825.8 481.0 L827.9 480.5 L829.9 480.3 L832.0 480.2" stroke="#52AD4C"/>
<path d="M832.0 720.8 L829.9 720.5 L827.9 720.3 L825.8 719.6 L823.8 719.4 L821.7 719.9 L819.6 719.9 L817.6 720.2 L815.5 719.9 L813.4 718.7 L811.4 718.6 L809.3 718.9 L807.2 718.7 L805.2 718.9 L803.1 719.6 L801.1 719.8 L799.0 719.5 L796.9 719.6 L794.9 719.6 L792.8 719.5 L790.8 720.0 L788.7 720.5 L786.6 720.4 L784.6 719.9 L782.5 719.9 L780.4 720.6 L778.4 721.1 L776.3 720.7 L774.2 720.8 L772.2 722.1 L770.1 723.0 L768.1 722.2 L766.0 721.9 L764.0 721.4 L762.0 720.5 L760.0 721.1 L758.0 722.1 L756.0 722.7 L754.0 722.3 L752.0 721.8 L750.0 722.1 L748.0 722.4 L746.0 722.3 L744.0 722.1 L742.0 721.9 L740.0 722.6 L738.0 724.0 L736.0 724.7 L734.0 724.3 L732.0 724.0 L730.0 724.5 L728.0 725.0 L726.0 725.2 L724.0 724.8 L722.0 724.2 L720.0 724.1 L718.0 724.3 L716.0 724.4 L714.0 724.2 L712.0 723.3 L710.0 722.8 L708.0 722.9 L706.0 723.3 L704.0 724.2 L702.0 724.4 L700.0 724.2 L697.9 725.2 L695.9 725.8 L693.8 725.8 L691.8 726.6 L689.7 726.3 L687.6 725.1 L685.6 725.4 L683.5 725.7 L681.4 725.7 L679.4 725.5 L677.3 724.7 L675.2 724.2 L673.2 724.1 L671.1 724.3 L669.1 724.3 L667.0 723.8 L665.0 724.2 L663.0 725.1 L661.0 725.4 L659.0 724.8 L657.0 724.0 L655.0 724.1 L653.0 724.8 L651.0 725.0 L649.0 725.3 L647.0 725.8 L645.0 725.8 L643.0 725.7 L641.0 726.2 L639.0 726.5 L637.0 726.8 L635.0 727.4 L633.0 727.7 L631.0 727.5 L629.0 727.7 L627.0 728.4 L625.0 729.0 L622.9 729.1 L620.8 728.9 L618.8 728.9 L616.7 729.0 L614.6 729.2 L612.5 728.2 L610.4 727.7 L608.3 728.9 L606.2 728.9 L604.2 728.1 L602.1 728.2 L600.0 729.0 L597.9 730.2 L595.8 729.6 L593.8 728.6 L591.7 729.1 L589.6 729.9 L587.5 730.2 L585.4 728.9 L583.3 728.0 L581.2 729.0 L579.2 729.5 L577.1 728.9 L575.0 728.7 L573.0 730.3 L571.0 730.9 L569.0 730.2 L567.0 730.6 L565.0 731.5 L563.0 732.4 L561.0 732.1 L559.0 731.7 L557.0 732.3 L555.0 732.2 L553.0 731.9 L551.0 732.2 L549.0 731.6 L547.0 731.8 L545.0 733.2 L543.0 733.0 L541.0 732.6 L538.8 732.8 L536.7 732.2 L534.5 732.2 L532.4 733.0 L530.2 733.6 L528.1 734.5 L525.9 735.1 L523.7 735.0 L521.5 735.4 L519.3 735.5 L517.0 735.2 L514.8 735.5 L512.6 736.0 L510.4 737.0 L508.2 737.5 L506.0 737.0 L503.8 736.8 L501.6 737.4 L499.4 738.1 L497.2 738.8 L495.0 738.9 L492.8 739.3 L490.6 740.5 L488.4 741.0 L486.1 741.2 L483.9 741.9 L481.7 742.1 L479.5 742.3 L477.3 742.7 L475.1 742.8 L472.9 743.2 L470.6 744.4 L468.4 746.0 L466.2 746.4 L464.0 746.3 L462.1 747.1 L460.1 747.6 L458.2 748.2 L456.2 749.2 L454.3 750.4 L452.4 751.6 L450.4 751.3 L448.5 751.2 L446.8 753.0 L445.1 753.9 L443.3 753.8 L441.6 754.6 L439.9 757.3 L438.2 759.5 L436.4 760.7 L434.7 762.2 L433.0 763.3 L431.3 763.9 L429.6 764.5 L427.8 765.1 L426.1 766.3 L424.4 768.2 L422.7 768.8 L420.9 769.2 L419.2 770.7 L417.5 771.8 L415.7 772.6 L413.9 773.9 L412.1 774.4 L410.4 774.6 L408.6 776.4 L406.8 778.3 L405.0 778.7 L403.0 779.2 L401.0 780.4 L399.0 780.3 L397.0 779.8 L395.0 780.3 L393.0 781.4 L391.0 781.9 L389.0 781.4 L387.0 781.7 L385.0 783.2 L383.0 784.1 L381.0 783.7 L379.0 783.6 L377.0 784.2 L375.0 784.9 L373.0 785.0 L371.0 784.7 L368.9 785.1 L366.9 785.2 L364.8 785.2 L362.7 785.8 L360.7 786.2 L358.6 786.3 L356.5 786.3 L354.5 786.1 L352.4 786.7 L350.3 787.6 L348.3 788.1 L346.2 788.1 L344.1 787.0 L342.1 786.9 L340.0 788.1 L338.0 789.5 L335.9 790.3 L333.9 789.6 L331.8 789.0 L329.8 789.2 L327.7 788.8 L325.7 789.3 L323.6 791.1 L321.6 791.2 L319.6 790.9 L317.5 791.5 L315.5 792.0 L313.4 791.9 L311.4 791.5 L309.3 790.5 L307.3 790.7 L305.2 792.4 L303.2 793.1 L301.1 792.6 L299.0 792.2 L297.0 792.0 L294.9 792.3 L292.8 793.2 L290.8 793.4 L288.7 793.2 L286.6 793.4 L284.6 793.7 L282.5 793.8 L280.4 793.3 L278.4 792.9 L276.3 793.9 L274.3 794.7 L272.2 793.9 L270.1 793.7 L268.1 794.6 L266.0 795.0 L263.9 794.2 L261.9 793.6 L259.8 793.8 L257.7 793.6 L255.7 793.9 L253.6 794.7 L251.6 795.0 L249.5 796.2 L247.5 797.4 L245.4 796.7 L243.4 795.6 L241.3 794.8 L239.3 794.4 L237.3 794.5 L235.2 794.6 L233.2 794.7 L231.1 795.0 L229.1 795.3 L227.0 794.9 L225.0 794.5 L223.0 795.1 L220.9 796.2 L218.9 796.9 L216.8 797.4 L214.8 797.4 L212.7 797.0 L210.7 796.7 L208.7 796.9 L206.6 798.2 L204.6 798.3 L202.5 796.9 L200.5 796.4 L198.4 796.4 L196.4 795.9 L194.4 796.4 L192.3 797.5 L190.3 797.4 L188.2 797.4 L186.2 797.5 L184.1 797.2 L182.1 797.2 L180.1 797.1 L178.0 797.1 L176.0 797.4 L173.9 797.9 L171.9 798.5 L169.8 798.7 L167.8 798.6 L165.8 798.1 L163.7 797.8 L161.7 797.3 L159.6 797.2 L157.6 798.3 L155.5 798.6 L153.5 798.4 L151.5 798.8 L149.4 798.7 L147.4 798.9 L145.3 799.4 L143.3 799.0 L141.2 798.8 L139.2 799.9 L137.2 800.1 L135.1 799.1 L133.1 798.3 L131.0 798.0 L129.0 798.6 L126.9 799.7 L124.9 799.6 L122.9 799.1 L120.8 799.8 L118.8 800.7 L116.7 800.1 L114.7 800.0 L112.6 800.8 L110.6 800.7 L108.6 800.0 L106.5 799.2 L104.5 798.5 L102.4 798.7 L100.4 799.3 L98.3 799.8 L96.3 800.3 L94.3 800.5 L92.2 800.4 L90.2 799.9 L88.1 798.8 L86.1 798.2 L84.0 798.8 L82.0 799.3" stroke="#3580BE"/>
<path d="M82.0 800.2 L84.0 800.0 L86.1 799.5 L88.1 799.6 L90.2 800.3 L92.2 800.5 L94.3 800.5 L96.3 800.7 L98.3 800.4 L100.4 800.0 L102.4 801.0 L104.5 801.6 L106.5 801.2 L108.6 801.6 L110.6 802.3 L112.6 801.8 L114.7 801.3 L116.7 801.7 L118.8 801.3 L120.8 800.5 L122.9 800.7 L124.9 801.0 L126.9 800.8 L129.0 800.8 L131.0 800.9 L133.1 799.9 L135.1 799.6 L137.2 800.5 L139.2 801.0 L141.2 800.4 L143.3 799.8 L145.3 800.2 L147.4 800.7 L149.4 800.3 L151.5 799.2 L153.5 799.0 L155.5 798.6 L157.6 797.8 L159.6 798.4 L161.7 799.2 L163.7 798.6 L165.8 798.4 L167.8 799.2 L169.8 799.7 L171.9 799.1 L173.9 798.2 L176.0 798.4 L178.0 798.7 L180.1 798.0 L182.1 797.8 L184.1 798.9 L186.2 799.0 L188.2 797.1 L190.3 795.7 L192.3 796.0 L194.4 796.8 L196.4 797.7 L198.4 798.1 L200.5 797.6 L202.5 797.3 L204.6 797.3 L206.6 797.1 L208.7 797.0 L210.7 797.9 L212.7 799.1 L214.8 798.4 L216.8 796.8 L218.9 796.3 L220.9 796.2 L223.0 795.9 L225.0 796.0 L227.0 796.7 L229.1 797.3 L231.1 796.8 L233.2 796.0 L235.2 795.5 L237.3 795.8 L239.3 796.4 L241.3 797.0 L243.4 797.2 L245.4 797.0 L247.5 797.2 L249.5 797.1 L251.6 796.0 L253.6 794.9 L255.7 795.2 L257.7 796.6 L259.8 797.1 L261.9 796.6 L263.9 796.0 L266.0 795.3 L268.1 794.7 L270.1 794.9 L272.2 795.4 L274.3 795.2 L276.3 794.5 L278.4 794.3 L280.4 794.6 L282.5 794.2 L284.6 794.0 L286.6 794.6 L288.7 794.2 L290.8 793.9 L292.8 794.4 L294.9 794.1 L297.0 793.3 L299.0 792.7 L301.1 791.8 L303.2 791.0 L305.2 791.0 L307.3 791.5 L309.3 791.3 L311.4 791.3 L313.4 791.0 L315.5 790.6 L317.5 791.0 L319.6 791.5 L321.6 792.1 L323.6 792.3 L325.7 791.8 L327.7 791.1 L329.8 790.7 L331.8 790.7 L333.9 790.5 L335.9 789.9 L338.0 789.8 L340.0 789.9 L342.1 789.9 L344.1 789.7 L346.2 789.0 L348.3 788.8 L350.3 788.8 L352.4 787.9 L354.5 788.3 L356.5 788.4 L358.6 787.0 L360.7 787.1 L362.7 787.7 L364.8 787.8 L366.9 787.9 L368.9 787.1 L371.0 787.9 L373.0 788.7 L375.0 787.9 L377.0 787.0 L379.0 786.4 L381.0 786.1 L383.0 786.0 L385.0 785.4 L387.0 785.5 L389.0 785.7 L391.0 784.9 L393.0 784.7 L395.0 784.6 L397.0 784.4 L399.0 785.0 L401.0 784.5 L403.0 783.4 L405.0 783.3 L407.1 783.3 L409.2 783.3 L411.2 783.5 L413.3 783.8 L415.4 784.0 L417.5 784.0 L419.7 783.9 L421.9 783.8 L424.1 783.3 L426.4 782.4 L428.6 781.6 L430.8 781.4 L433.0 782.1 L435.2 782.7 L437.4 782.8 L439.6 781.9 L441.9 780.4 L444.1 779.5 L446.3 779.1 L448.5 779.0 L450.4 779.1 L452.4 778.1 L454.3 776.4 L456.2 776.0 L458.2 776.4 L460.1 775.7 L462.1 774.9 L464.0 774.5 L465.9 773.4 L467.9 772.2 L469.8 771.0 L471.8 770.2 L473.7 770.2 L475.6 769.3 L477.6 768.3 L479.5 768.2 L481.4 767.7 L483.4 766.6 L485.3 764.9 L487.2 763.3 L489.2 762.2 L491.1 761.3 L493.1 760.9 L495.0 760.3 L496.9 759.7 L498.9 759.3 L500.8 757.9 L502.7 756.3 L504.6 754.9 L506.5 753.8 L508.5 753.4 L510.4 752.1 L512.3 750.6 L514.3 750.3 L516.2 750.0 L518.1 749.1 L520.1 747.6 L522.0 745.7 L524.0 745.3 L525.9 745.8 L528.1 744.8 L530.3 743.5 L532.5 743.4 L534.8 742.6 L537.0 741.0 L539.2 740.0 L541.4 740.4 L543.6 741.4 L545.9 741.4 L548.1 741.1 L550.3 741.1 L552.5 740.4 L554.8 739.1 L557.0 738.9 L559.0 738.7 L561.0 738.2 L563.0 738.3 L565.0 738.3 L567.0 737.7 L569.0 736.9 L571.0 737.5 L573.0 738.1 L575.0 736.5 L577.1 735.5 L579.2 736.3 L581.2 736.7 L583.3 736.0 L585.4 735.3 L587.5 735.3 L589.6 734.4 L591.7 733.6 L593.8 733.6 L595.8 734.0 L597.9 734.4 L600.0 734.1 L602.1 733.9 L604.2 734.0 L606.2 734.0 L608.3 733.5 L610.4 732.2 L612.5 732.1 L614.6 732.8 L616.7 732.5 L618.8 732.5 L620.8 732.8 L622.9 732.6 L625.0 733.0 L627.0 732.7 L629.0 731.8 L631.0 732.9 L633.0 733.8 L635.0 732.7 L637.0 732.0 L639.0 732.6 L641.0 732.4 L643.0 731.1 L645.0 730.6 L647.0 730.9 L649.0 731.0 L651.0 731.0 L653.0 730.7 L655.0 730.1 L657.0 729.7 L659.0 729.3 L661.0 729.0 L663.0 729.2 L665.0 728.9 L667.0 728.9 L669.1 729.6 L671.1 728.9 L673.2 728.2 L675.2 728.6 L677.3 728.5 L679.4 728.3 L681.4 728.3 L683.5 728.1 L685.6 727.8 L687.6 727.4 L689.7 727.9 L691.8 727.9 L693.8 726.5 L695.9 726.5 L697.9 726.8 L700.0 725.8 L702.0 726.2 L704.0 727.4 L706.0 727.6 L708.0 727.8 L710.0 727.4 L712.0 726.7 L714.0 726.8 L716.0 727.2 L718.0 727.3 L720.0 726.9 L722.0 726.4 L724.0 726.7 L726.0 727.2 L728.0 726.6 L730.0 725.4 L732.0 725.3 L734.0 725.7 L736.0 725.4 L738.0 725.0 L740.0 724.9 L742.0 725.3 L744.0 726.1 L746.0 726.3 L748.0 726.4 L750.0 726.6 L752.0 726.9 L754.0 727.5 L756.0 727.0 L758.0 725.7 L760.0 724.2 L762.0 723.2 L764.0 724.2 L766.0 725.6 L768.1 725.7 L770.1 725.1 L772.2 725.4 L774.2 725.2 L776.3 724.1 L778.4 723.1 L780.4 723.5 L782.5 724.2 L784.6 724.4 L786.6 723.9 L788.7 723.5 L790.8 724.2 L792.8 724.6 L794.9 724.5 L796.9 724.6 L799.0 724.4 L801.1 723.2 L803.1 722.0 L805.2 722.2 L807.2 723.6 L809.3 723.7 L811.4 722.9 L813.4 722.4 L815.5 722.4 L817.6 722.4 L819.6 721.9 L821.7 722.4 L823.8 723.3 L825.8 722.6 L827.9 721.2 L829.9 720.6 L832.0 720.9" stroke="#3580BE"/>
<path d="M832.0 950.5 L829.9 950.3 L827.9 949.8 L825.8 949.5 L823.8 949.1 L821.7 949.1 L819.6 950.0 L817.6 950.7 L815.5 950.7 L813.4 949.5 L811.4 949.1 L809.3 949.5 L807.2 948.8 L805.2 947.8 L803.1 948.0 L801.1 948.7 L799.0 949.0 L796.9 949.1 L794.9 949.5 L792.8 949.6 L790.8 949.0 L788.7 948.5 L786.6 948.4 L784.6 948.9 L782.5 949.0 L780.4 948.7 L778.4 948.4 L776.3 947.6 L774.2 946.8 L772.2 947.2 L770.1 948.2 L768.1 948.8 L766.0 948.9 L764.0 948.7 L762.0 948.9 L760.0 949.5 L758.0 949.0 L756.0 948.2 L754.0 948.1 L752.0 948.2 L750.0 948.2 L748.0 949.0 L746.0 949.4 L744.0 949.5 L742.0 950.0 L740.0 949.5 L738.0 948.9 L736.0 948.9 L734.0 949.0 L732.0 949.5 L729.9 950.2 L727.9 950.9 L725.8 950.8 L723.8 950.3 L721.7 949.6 L719.7 949.1 L717.6 949.4 L715.6 950.0 L713.5 950.6 L711.5 951.2 L709.4 951.7 L707.4 951.8 L705.3 951.5 L703.3 951.2 L701.2 951.2 L699.2 951.7 L697.1 951.6 L695.1 951.1 L693.0 952.1 L690.9 953.0 L688.9 952.1 L686.8 951.1 L684.8 950.7 L682.7 951.0 L680.6 952.1 L678.6 952.4 L676.5 952.8 L674.4 954.0 L672.4 954.0 L670.3 952.8 L668.2 953.0 L666.2 953.3 L664.1 953.2 L662.1 953.1 L660.0 953.4 L657.9 954.1 L655.9 954.1 L653.8 954.0 L651.8 954.5 L649.7 954.6 L647.6 954.4 L645.6 954.8 L643.5 955.4 L641.4 955.0 L639.4 954.2 L637.3 953.9 L635.2 953.9 L633.2 954.1 L631.1 954.8 L629.1 954.7 L627.0 954.2 L624.8 955.0 L622.7 956.0 L620.5 955.7 L618.3 955.6 L616.2 956.2 L614.0 955.6 L612.0 954.9 L610.0 955.4 L608.0 956.6 L606.0 957.8 L604.0 958.1 L602.0 957.4 L600.0 956.7 L598.0 956.7 L596.0 957.1 L594.0 957.2 L592.0 957.2 L590.0 958.2 L588.0 959.1 L586.0 959.1 L584.0 959.1 L582.0 958.4 L580.0 958.2 L578.0 959.2 L576.0 960.7 L574.0 960.9 L572.0 960.7 L569.9 961.0 L567.7 961.3 L565.6 961.9 L563.4 961.8 L561.3 961.5 L559.1 961.7 L557.0 961.3 L555.0 960.8 L553.0 961.1 L551.0 962.1 L549.0 962.6 L547.0 962.5 L545.0 963.1 L543.0 963.7 L541.0 963.2 L539.0 963.1 L537.0 964.4 L535.0 964.8 L533.0 963.7 L531.0 962.6 L529.0 963.1 L526.9 964.0 L524.7 964.5 L522.6 964.3 L520.4 963.6 L518.3 963.6 L516.1 964.0 L514.0 964.4 L512.0 964.8 L510.0 964.9 L508.0 964.4 L506.0 963.9 L504.0 964.3 L502.0 964.9 L500.0 965.9 L498.0 967.4 L496.0 968.1 L494.0 967.4 L492.0 966.8 L490.0 967.1 L488.0 967.9 L486.0 969.0 L484.0 969.3 L482.0 969.1 L480.0 968.4 L478.0 967.8 L476.0 968.3 L474.0 969.2 L472.0 970.2 L469.9 970.6 L467.7 970.6 L465.6 971.5 L463.4 972.5 L461.3 972.0 L459.1 971.9 L457.0 972.6 L455.0 972.8 L453.0 973.3 L451.0 974.5 L449.0 974.7 L447.0 973.6 L445.0 973.9 L443.0 974.6 L441.0 974.8 L439.0 975.0 L437.0 975.6 L435.0 976.2 L433.0 976.2 L431.0 976.3 L429.0 976.8 L426.9 977.2 L424.7 977.8 L422.6 978.5 L420.4 978.7 L418.3 978.9 L416.1 978.9 L414.0 978.7 L412.0 978.9 L410.0 979.6 L408.0 980.3 L406.0 980.5 L404.0 980.7 L402.0 981.9 L400.0 982.2 L398.0 982.3 L396.0 983.6 L394.0 984.0 L392.0 984.2 L390.0 984.9 L388.0 984.9 L386.0 985.5 L384.0 986.5 L382.0 986.1 L380.0 986.5 L378.0 987.2 L376.0 987.1 L374.0 987.5 L372.0 989.0 L370.0 989.7 L368.0 988.9 L366.0 988.9 L364.0 989.7 L362.0 989.5 L359.9 989.3 L357.7 990.1 L355.6 990.9 L353.4 991.5 L351.3 992.3 L349.1 992.6 L347.0 992.4 L345.0 992.2 L343.0 992.0 L341.0 992.7 L339.0 993.4 L337.0 993.7 L335.0 993.9 L333.0 994.6 L331.0 996.1 L329.0 996.6 L327.0 995.7 L325.0 995.5 L323.0 996.0 L321.0 996.6 L319.0 996.7 L316.9 996.2 L314.7 996.2 L312.6 996.1 L310.4 996.1 L308.3 996.5 L306.1 996.6 L304.0 996.9 L302.0 997.5 L300.0 997.7 L298.0 997.7 L296.0 997.5 L294.0 997.2 L292.0 997.4 L290.0 997.6 L288.0 997.7 L286.0 998.1 L284.0 997.8 L282.0 997.0 L280.0 997.1 L278.0 997.6 L276.0 997.8 L274.0 997.1 L272.0 996.6 L270.0 997.6 L268.0 998.6 L265.9 998.4 L263.9 998.2 L261.8 998.0 L259.7 997.6 L257.7 998.5 L255.6 999.4 L253.5 999.6 L251.5 999.8 L249.4 999.5 L247.3 999.3 L245.3 999.5 L243.2 1000.4 L241.1 1001.2 L239.1 1000.8 L237.0 1000.1 L234.9 999.7 L232.9 1000.1 L230.8 1000.7 L228.7 1000.0 L226.7 999.7 L224.6 1000.2 L222.5 1001.1 L220.5 1001.2 L218.4 1000.3 L216.3 1000.8 L214.3 1001.4 L212.2 1000.6 L210.1 1000.8 L208.1 1002.1 L206.0 1002.4 L203.9 1001.3 L201.9 1001.1 L199.8 1002.8 L197.7 1003.5 L195.7 1002.2 L193.6 1001.8 L191.5 1003.2 L189.5 1003.9 L187.4 1004.1 L185.3 1003.9 L183.3 1003.5 L181.2 1004.1 L179.1 1005.5 L177.1 1005.2 L175.0 1003.6 L172.9 1004.1 L170.9 1005.6 L168.8 1004.9 L166.7 1004.2 L164.7 1004.8 L162.6 1005.2 L160.5 1005.2 L158.5 1005.1 L156.4 1005.2 L154.3 1005.5 L152.3 1005.7 L150.2 1005.5 L148.1 1005.6 L146.1 1006.4 L144.0 1007.2 L141.9 1007.0 L139.9 1006.7 L137.8 1007.0 L135.7 1007.4 L133.7 1007.7 L131.6 1008.1 L129.5 1008.6 L127.5 1008.4 L125.4 1007.5 L123.3 1007.3 L121.3 1008.0 L119.2 1008.0 L117.1 1007.3 L115.1 1006.2 L113.0 1006.4 L110.9 1007.8 L108.9 1008.8 L106.8 1008.4 L104.7 1008.0 L102.7 1008.4 L100.6 1008.5 L98.5 1008.7 L96.5 1008.8 L94.4 1008.2 L92.3 1007.6 L90.3 1007.3 L88.2 1007.4 L86.1 1008.0 L84.1 1009.0 L82.0 1009.6" stroke="#E31E26"/>
<path d="M82.0 1011.9 L84.1 1011.4 L86.1 1010.8 L88.2 1010.8 L90.3 1010.8 L92.3 1011.0 L94.4 1010.6 L96.5 1010.0 L98.5 1010.1 L100.6 1010.2 L102.7 1010.2 L104.7 1011.0 L106.8 1011.1 L108.9 1010.0 L110.9 1008.7 L113.0 1008.1 L115.1 1008.6 L117.1 1008.5 L119.2 1008.0 L121.3 1008.9 L123.3 1009.3 L125.4 1008.6 L127.5 1008.2 L129.5 1008.3 L131.6 1008.4 L133.7 1007.8 L135.7 1008.4 L137.8 1009.5 L139.9 1009.1 L141.9 1008.5 L144.0 1007.8 L146.1 1007.2 L148.1 1007.6 L150.2 1007.7 L152.3 1007.3 L154.3 1007.8 L156.4 1008.6 L158.5 1007.9 L160.5 1006.3 L162.6 1005.6 L164.7 1006.1 L166.7 1007.3 L168.8 1007.7 L170.9 1007.1 L172.9 1005.9 L175.0 1005.6 L177.1 1006.0 L179.1 1005.9 L181.2 1005.4 L183.3 1005.7 L185.3 1006.0 L187.4 1005.3 L189.5 1003.9 L191.5 1003.2 L193.6 1003.9 L195.7 1004.4 L197.7 1004.0 L199.8 1003.5 L201.9 1003.5 L203.9 1003.8 L206.0 1003.6 L208.1 1003.1 L210.1 1002.5 L212.2 1002.5 L214.3 1002.6 L216.3 1002.0 L218.4 1001.6 L220.5 1002.5 L222.5 1003.3 L224.6 1003.4 L226.7 1003.3 L228.7 1002.6 L230.8 1001.6 L232.9 1001.0 L234.9 1001.7 L237.0 1002.7 L239.1 1002.6 L241.1 1002.4 L243.2 1002.2 L245.3 1001.6 L247.3 1001.3 L249.4 1001.5 L251.5 1001.7 L253.5 1001.7 L255.6 1001.4 L257.7 1000.8 L259.7 1000.2 L261.8 999.9 L263.9 1000.2 L265.9 1000.1 L268.0 999.3 L270.0 1000.2 L272.0 1001.5 L274.0 1000.3 L276.0 999.3 L278.0 1000.1 L280.0 1000.7 L282.0 1000.5 L284.0 1000.3 L286.0 1000.0 L288.0 1000.6 L290.0 1001.6 L292.0 1000.3 L294.0 998.7 L296.0 998.5 L298.0 998.7 L300.0 998.8 L302.0 998.5 L304.0 997.5 L306.1 996.7 L308.3 997.0 L310.4 996.9 L312.6 996.1 L314.7 995.5 L316.9 995.4 L319.0 995.6 L321.0 995.4 L323.0 995.1 L325.0 995.5 L327.0 995.6 L329.0 994.9 L331.0 994.6 L333.0 995.1 L335.0 994.8 L337.0 993.7 L339.0 993.4 L341.0 993.4 L343.0 993.9 L345.0 994.4 L347.0 993.9 L349.1 993.4 L351.3 993.7 L353.4 994.6 L355.6 994.7 L357.7 993.6 L359.9 992.0 L362.0 991.9 L364.0 992.6 L366.0 992.1 L368.0 991.6 L370.0 991.1 L372.0 990.7 L374.0 990.9 L376.0 990.9 L378.0 990.5 L380.0 990.2 L382.0 990.1 L384.0 990.1 L386.0 990.6 L388.0 991.1 L390.0 990.7 L392.0 990.2 L394.0 988.9 L396.0 987.7 L398.0 988.2 L400.0 988.4 L402.0 988.0 L404.0 987.3 L406.0 986.6 L408.0 987.0 L410.0 988.0 L412.0 988.0 L414.0 986.7 L416.1 986.4 L418.3 986.8 L420.4 986.8 L422.6 987.1 L424.7 986.3 L426.9 985.5 L429.0 986.3 L431.0 986.0 L433.0 984.8 L435.0 984.7 L437.0 984.6 L439.0 984.1 L441.0 982.8 L443.0 981.7 L445.0 982.6 L447.0 983.7 L449.0 984.4 L451.0 984.1 L453.0 983.0 L455.0 981.9 L457.0 981.4 L459.1 981.1 L461.3 980.8 L463.4 980.1 L465.6 979.5 L467.7 980.2 L469.9 981.5 L472.0 982.3 L474.0 981.3 L476.0 980.0 L478.0 979.4 L480.0 978.5 L482.0 977.6 L484.0 977.7 L486.0 978.8 L488.0 978.2 L490.0 976.7 L492.0 976.7 L494.0 976.9 L496.0 976.4 L498.0 975.3 L500.0 974.1 L502.0 973.7 L504.0 974.0 L506.0 973.7 L508.0 972.4 L510.0 972.0 L512.0 972.2 L514.0 971.8 L516.1 971.9 L518.3 971.9 L520.4 972.0 L522.6 972.1 L524.7 971.5 L526.9 970.5 L529.0 969.3 L531.0 968.9 L533.0 969.7 L535.0 970.2 L537.0 970.3 L539.0 969.8 L541.0 968.5 L543.0 967.7 L545.0 967.8 L547.0 967.4 L549.0 966.7 L551.0 966.7 L553.0 966.9 L555.0 966.8 L557.0 966.5 L559.1 966.3 L561.3 966.4 L563.4 966.3 L565.6 965.8 L567.7 965.1 L569.9 965.3 L572.0 965.8 L574.0 965.2 L576.0 964.7 L578.0 963.9 L580.0 963.2 L582.0 964.1 L584.0 964.2 L586.0 963.6 L588.0 963.6 L590.0 963.0 L592.0 962.6 L594.0 962.7 L596.0 963.3 L598.0 963.5 L600.0 962.6 L602.0 962.8 L604.0 962.6 L606.0 960.9 L608.0 960.7 L610.0 961.8 L612.0 962.0 L614.0 962.3 L616.2 962.2 L618.3 961.0 L620.5 959.2 L622.7 958.5 L624.8 959.1 L627.0 959.3 L629.1 959.6 L631.1 959.3 L633.2 959.2 L635.2 960.2 L637.3 960.6 L639.4 959.6 L641.4 958.4 L643.5 958.1 L645.6 958.2 L647.6 957.9 L649.7 957.9 L651.8 958.5 L653.8 958.8 L655.9 958.4 L657.9 958.4 L660.0 958.8 L662.1 957.6 L664.1 956.0 L666.2 956.4 L668.2 957.5 L670.3 957.8 L672.4 957.2 L674.4 956.6 L676.5 956.6 L678.6 956.8 L680.6 956.3 L682.7 955.7 L684.8 955.8 L686.8 956.0 L688.9 955.3 L690.9 954.8 L693.0 955.3 L695.1 955.4 L697.1 955.6 L699.2 956.2 L701.2 956.6 L703.3 956.2 L705.3 955.2 L707.4 954.6 L709.4 954.9 L711.5 955.9 L713.5 956.3 L715.6 956.0 L717.6 954.6 L719.7 954.1 L721.7 955.3 L723.8 955.4 L725.8 955.0 L727.9 955.1 L729.9 955.3 L732.0 954.7 L734.0 954.1 L736.0 954.4 L738.0 954.1 L740.0 954.2 L742.0 955.1 L744.0 954.8 L746.0 953.2 L748.0 952.4 L750.0 953.1 L752.0 953.6 L754.0 952.8 L756.0 951.9 L758.0 951.6 L760.0 951.7 L762.0 952.5 L764.0 953.2 L766.0 952.8 L768.1 952.1 L770.1 952.2 L772.2 952.3 L774.2 951.8 L776.3 952.3 L778.4 953.2 L780.4 952.9 L782.5 952.3 L784.6 951.8 L786.6 951.1 L788.7 950.6 L790.8 951.4 L792.8 952.9 L794.9 953.5 L796.9 953.0 L799.0 952.2 L801.1 951.3 L803.1 950.7 L805.2 950.8 L807.2 950.9 L809.3 950.6 L811.4 950.5 L813.4 949.5 L815.5 948.5 L817.6 948.4 L819.6 948.1 L821.7 948.7 L823.8 949.7 L825.8 949.7 L827.9 949.6 L829.9 950.2 L832.0 950.0" stroke="#E31E26"/>
</g>
<g class="ax">
<rect x="82" y="4" width="750" height="1083" fill="none"/>
<line x1="82" y1="220.6" x2="832" y2="220.6"/>
<line x1="82" y1="437.2" x2="832" y2="437.2"/>
<line x1="82" y1="653.8" x2="832" y2="653.8"/>
<line x1="82" y1="870.4" x2="832" y2="870.4"/>
<line x1="207" y1="4" x2="207" y2="10.5"/>
<line x1="332" y1="4" x2="332" y2="10.5"/>
<line x1="457" y1="4" x2="457" y2="10.5"/>
<line x1="582" y1="4" x2="582" y2="10.5"/>
<line x1="707" y1="4" x2="707" y2="10.5"/>
<line x1="207" y1="214.1" x2="207" y2="227.1"/>
<line x1="332" y1="214.1" x2="332" y2="227.1"/>
<line x1="457" y1="214.1" x2="457" y2="227.1"/>
<line x1="582" y1="214.1" x2="582" y2="227.1"/>
<line x1="707" y1="214.1" x2="707" y2="227.1"/>
<line x1="207" y1="430.7" x2="207" y2="443.7"/>
<line x1="332" y1="430.7" x2="332" y2="443.7"/>
<line x1="457" y1="430.7" x2="457" y2="443.7"/>
<line x1="582" y1="430.7" x2="582" y2="443.7"/>
<line x1="707" y1="430.7" x2="707" y2="443.7"/>
<line x1="207" y1="647.3" x2="207" y2="660.3"/>
<line x1="332" y1="647.3" x2="332" y2="660.3"/>
<line x1="457" y1="647.3" x2="457" y2="660.3"/>
<line x1="582" y1="647.3" x2="582" y2="660.3"/>
<line x1="707" y1="647.3" x2="707" y2="660.3"/>
<line x1="207" y1="863.9" x2="207" y2="876.9"/>
<line x1="332" y1="863.9" x2="332" y2="876.9"/>
<line x1="457" y1="863.9" x2="457" y2="876.9"/>
<line x1="582" y1="863.9" x2="582" y2="876.9"/>
<line x1="707" y1="863.9" x2="707" y2="876.9"/>
<line x1="207" y1="1080.5" x2="207" y2="1087"/>
<line x1="332" y1="1080.5" x2="332" y2="1087"/>
<line x1="457" y1="1080.5" x2="457" y2="1087"/>
<line x1="582" y1="1080.5" x2="582" y2="1087"/>
<line x1="707" y1="1080.5" x2="707" y2="1087"/>
<line x1="82" y1="58.1" x2="90.5" y2="58.1"/>
<line x1="832" y1="58.1" x2="823.5" y2="58.1"/>
<line x1="82" y1="112.3" x2="90.5" y2="112.3"/>
<line x1="832" y1="112.3" x2="823.5" y2="112.3"/>
<line x1="82" y1="166.4" x2="90.5" y2="166.4"/>
<line x1="832" y1="166.4" x2="823.5" y2="166.4"/>
<line x1="82" y1="242.3" x2="90.5" y2="242.3"/>
<line x1="832" y1="242.3" x2="823.5" y2="242.3"/>
<line x1="82" y1="328.9" x2="90.5" y2="328.9"/>
<line x1="832" y1="328.9" x2="823.5" y2="328.9"/>
<line x1="82" y1="415.5" x2="90.5" y2="415.5"/>
<line x1="832" y1="415.5" x2="823.5" y2="415.5"/>
<line x1="82" y1="458.9" x2="90.5" y2="458.9"/>
<line x1="832" y1="458.9" x2="823.5" y2="458.9"/>
<line x1="82" y1="545.5" x2="90.5" y2="545.5"/>
<line x1="832" y1="545.5" x2="823.5" y2="545.5"/>
<line x1="82" y1="632.1" x2="90.5" y2="632.1"/>
<line x1="832" y1="632.1" x2="823.5" y2="632.1"/>
<line x1="82" y1="675.5" x2="90.5" y2="675.5"/>
<line x1="832" y1="675.5" x2="823.5" y2="675.5"/>
<line x1="82" y1="762.1" x2="90.5" y2="762.1"/>
<line x1="832" y1="762.1" x2="823.5" y2="762.1"/>
<line x1="82" y1="848.7" x2="90.5" y2="848.7"/>
<line x1="832" y1="848.7" x2="823.5" y2="848.7"/>
<line x1="82" y1="892.1" x2="90.5" y2="892.1"/>
<line x1="832" y1="892.1" x2="823.5" y2="892.1"/>
<line x1="82" y1="978.7" x2="90.5" y2="978.7"/>
<line x1="832" y1="978.7" x2="823.5" y2="978.7"/>
<line x1="82" y1="1065.3" x2="90.5" y2="1065.3"/>
<line x1="832" y1="1065.3" x2="823.5" y2="1065.3"/>
</g>
<g>
<text x="75" y="70.0" text-anchor="end">2</text>
<text x="75" y="124.1" text-anchor="end">0</text>
<text x="75" y="178.2" text-anchor="end">-2</text>
<text x="75" y="254.1" text-anchor="end">2</text>
<text x="75" y="340.7" text-anchor="end">0</text>
<text x="75" y="427.3" text-anchor="end">-2</text>
<text x="75" y="470.7" text-anchor="end">2</text>
<text x="75" y="557.3" text-anchor="end">0</text>
<text x="75" y="643.9" text-anchor="end">-2</text>
<text x="75" y="687.3" text-anchor="end">2</text>
<text x="75" y="773.9" text-anchor="end">0</text>
<text x="75" y="860.5" text-anchor="end">-2</text>
<text x="75" y="903.9" text-anchor="end">2</text>
<text x="75" y="990.5" text-anchor="end">0</text>
<text x="75" y="1077.1" text-anchor="end">-2</text>
<text x="56.48" y="1121.5">-&#8199;50</text>
<path d="M763 0H583V1147Q518 1085 412.5 1023T223 930V1104Q373 1175 485.5 1276T645 1472H763Z" transform="translate(67.63,1121.5) scale(0.016357,-0.016357)"/>
<text x="174.23" y="1121.5">-&#8199;00</text>
<path d="M763 0H583V1147Q518 1085 412.5 1023T223 930V1104Q373 1175 485.5 1276T645 1472H763Z" transform="translate(185.38,1121.5) scale(0.016357,-0.016357)"/>
<text x="300.79" y="1121.5">-50</text>
<text x="447.03" y="1121.5">0</text>
<text x="565.87" y="1121.5">50</text>
<text x="678.25" y="1121.5">&#8199;00</text>
<path d="M763 0H583V1147Q518 1085 412.5 1023T223 930V1104Q373 1175 485.5 1276T645 1472H763Z" transform="translate(678.25,1121.5) scale(0.016357,-0.016357)"/>
<text x="778.65" y="1121.5">&#8199;50</text>
<path d="M763 0H583V1147Q518 1085 412.5 1023T223 930V1104Q373 1175 485.5 1276T645 1472H763Z" transform="translate(778.65,1121.5) scale(0.016357,-0.016357)"/>
<text x="96" y="41.5" style="font-family:'Liberation Serif',serif;font-size:35px">&#957;</text>
<text x="121.20" y="41">= -&#8199;</text>
<path d="M763 0H583V1147Q518 1085 412.5 1023T223 930V1104Q373 1175 485.5 1276T645 1472H763Z" transform="translate(161.23,41) scale(0.016357,-0.016357)"/>
<text x="178.4" y="257" text-anchor="end">-0.74</text>
<text x="178.4" y="475.5" text-anchor="end">-2/3</text>
<text x="178.4" y="687" text-anchor="end">-0.52</text>
<text x="178.4" y="906" text-anchor="end">-0.45</text>
<text transform="translate(583.5,1073) scale(0.86,1)" style="font-style:italic">D</text>
<text x="605" y="1073">/</text>
<text x="616.5" y="1073" style="font-family:'Liberation Serif',serif;font-size:30px">&#949;</text>
<text x="629.8" y="1073" style="font-size:19px">o</text>
<text x="811" y="1073" text-anchor="end">= 0 mV/nm</text>
<text x="383" y="1160.5" style="font-style:italic">&#956;</text>
<text x="400.3" y="1160.5" style="font-size:21.5px">o</text>
<text x="413.3" y="1160.5" style="font-style:italic">H</text>
<text x="446" y="1160.5">(mT)</text>
<text transform="translate(27,573) rotate(-90)" text-anchor="middle">RMCD(%)</text>
</g>
</svg>
</body></html>
